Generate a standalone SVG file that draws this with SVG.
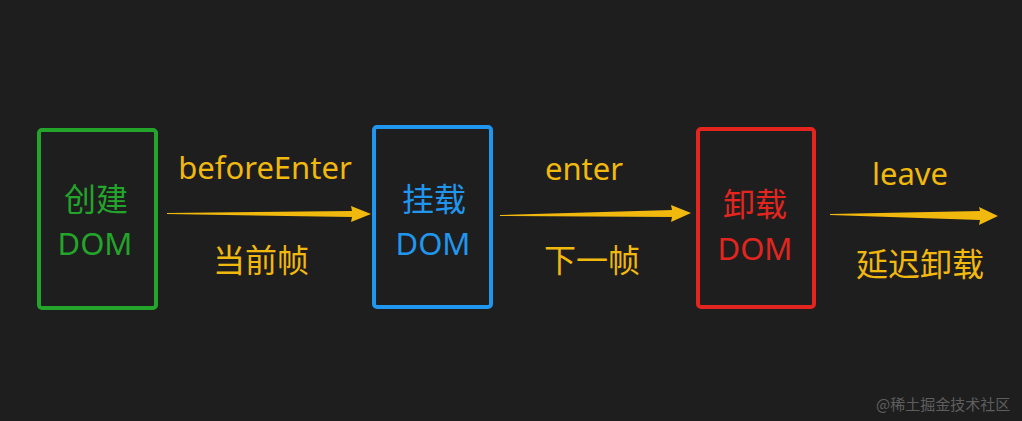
<svg xmlns="http://www.w3.org/2000/svg" width="1022" height="421" viewBox="0 0 1022 421">
<style>
.bg{fill:#1e1e1e}
.box{fill:none;stroke-width:4;}
.t{font-family:"Noto Sans CJK SC","Microsoft YaHei",sans-serif;font-size:32px;text-anchor:middle}
.l{font-family:"Noto Sans",sans-serif;font-size:31px;text-anchor:middle}
.y{fill:#f1b80e}
.arr{fill:#f1b80e}
.wm{font-family:"Noto Sans CJK SC",sans-serif;font-size:15px;fill:#5e5e5e}
</style>
<rect class="bg" x="0" y="0" width="1022" height="421"/>
<g id="node-create">
<rect class="box" x="39" y="130" width="117" height="178" rx="3" stroke="#23a42b"/>
<text class="t" x="96" y="211" fill="#23a42b">创建</text>
<text class="l" x="95" y="255" fill="#23a42b">DOM</text>
</g>
<g id="node-mount">
<rect class="box" x="374" y="127" width="117" height="180" rx="3" stroke="#2196ee"/>
<text class="t" x="434" y="211" fill="#2196ee">挂载</text>
<text class="l" x="433" y="255" fill="#2196ee">DOM</text>
</g>
<g id="node-unmount">
<rect class="box" x="698" y="129" width="116" height="178" rx="3" stroke="#e3251f"/>
<text class="t" x="755" y="216" fill="#e3251f">卸载</text>
<text class="l" x="755" y="260" fill="#e3251f">DOM</text>
</g>
<g id="connectors">
<polygon class="arr" points="167,213 352,211 351,206 371,214 351,222 352,217 167,214"/>
<polygon class="arr" points="500,215 672,210 671,205 691,213 671,222 672,217 500,216"/>
<polygon class="arr" points="830,214 980,211 979,207 998,216 979,225 980,220 830,215"/>
</g>
<g id="labels">
<text class="l y" x="265" y="179">beforeEnter</text>
<text class="t y" x="261" y="272">当前帧</text>
<text class="l y" x="584" y="180">enter</text>
<text class="t y" x="592" y="272">下一帧</text>
<text class="l y" x="910" y="185">leave</text>
<text class="t y" x="920" y="276">延迟卸载</text>
</g>
<text class="wm" x="876" y="410">@稀土掘金技术社区</text>
</svg>
